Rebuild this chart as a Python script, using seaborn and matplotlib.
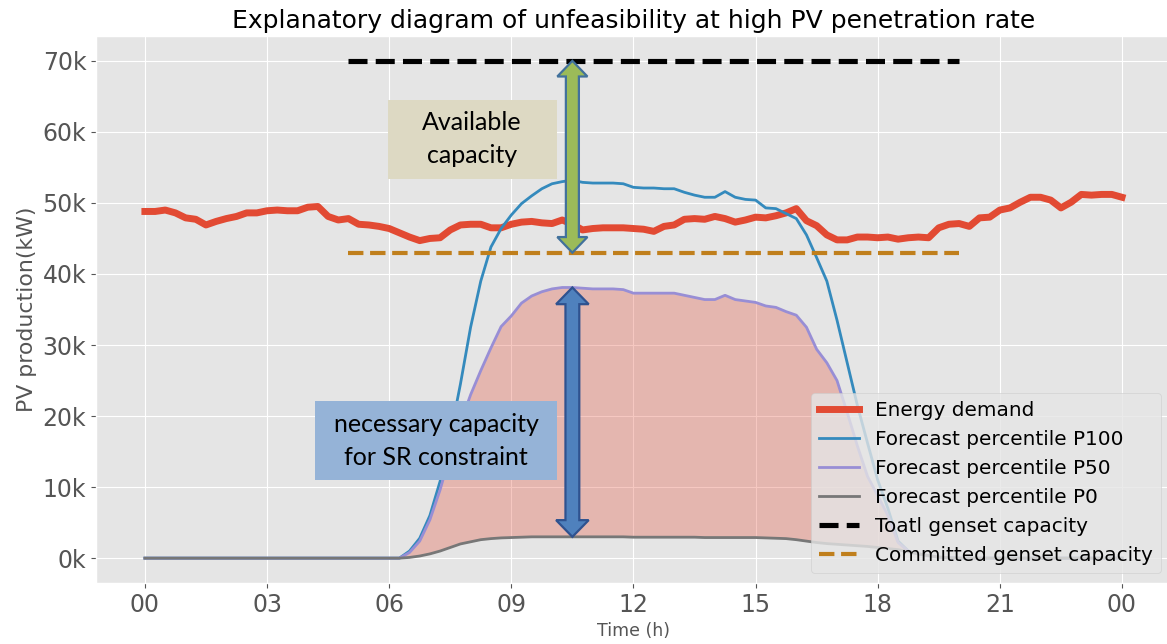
import numpy as np
import matplotlib
matplotlib.use('Agg')
import matplotlib.pyplot as plt
import seaborn as sns
from matplotlib.patches import Polygon, Rectangle
from matplotlib.ticker import FuncFormatter, MultipleLocator

plt.style.use('ggplot')

# quarter-hour time grid, one day (values below in thousands of kW)
hours = np.arange(0, 24.01, 0.25)

demand = [48.8, 48.8, 49.0, 48.6, 47.9, 47.7, 46.9, 47.4, 47.8, 48.1, 48.6, 48.6,
          48.9, 49.0, 48.9, 48.9, 49.4, 49.5, 48.1, 47.6, 47.8, 47.0, 46.9, 46.7,
          46.4, 45.8, 45.2, 44.7, 45.0, 45.1, 46.2, 46.9, 47.0, 47.0, 46.5, 46.5,
          47.0, 47.3, 47.4, 47.2, 47.1, 47.6, 47.0, 46.2, 46.4, 46.5, 46.5, 46.5,
          46.4, 46.3, 46.0, 46.7, 46.9, 47.7, 47.8, 47.7, 48.1, 47.8, 47.3, 47.6,
          48.0, 47.9, 48.2, 48.6, 49.2, 47.5, 46.8, 45.5, 44.8, 44.8, 45.2, 45.2,
          45.1, 45.2, 44.9, 45.1, 45.2, 45.1, 46.5, 47.0, 47.1, 46.7, 47.9, 48.0,
          49.0, 49.3, 50.1, 50.8, 50.8, 50.4, 49.3, 50.1, 51.2, 51.1, 51.2, 51.2,
          50.8]

p100 = [0.0] * 26 + [
    1.0, 2.8, 6.0, 10.8, 17.2, 24.5, 32.5, 39.0, 43.8, 46.4, 48.3, 49.9,
    51.0, 52.0, 52.7, 53.0, 53.2, 52.9, 52.8, 52.8, 52.8, 52.7, 52.2, 52.1,
    52.1, 52.0, 52.0, 51.5, 51.1, 50.8, 50.8, 51.6, 50.8, 50.5, 50.4, 49.3,
    49.2, 48.5, 47.8, 45.5, 42.3, 39.0, 33.5, 27.5, 21.5, 16.2, 11.0, 7.0,
    2.4, 1.0, 0.6, 0.35, 0.15, 0.05] + [0.0] * 17

p50 = [0.0] * 26 + [
    0.8, 2.4, 5.4, 9.6, 14.6, 19.0, 23.0, 26.4, 29.6, 32.6, 34.1, 35.9,
    36.9, 37.5, 37.9, 38.1, 38.1, 38.0, 37.9, 37.9, 37.9, 37.8, 37.3, 37.3,
    37.3, 37.3, 37.3, 37.0, 36.7, 36.4, 36.4, 37.0, 36.4, 36.2, 36.0, 35.5,
    35.3, 34.7, 34.2, 32.5, 29.4, 27.5, 25.0, 20.5, 15.8, 11.5, 8.8, 6.0,
    2.2, 1.0, 0.6, 0.35, 0.15, 0.05] + [0.0] * 17

p0 = [0.0] * 26 + [
    0.1, 0.3, 0.6, 1.0, 1.5, 2.0, 2.3, 2.6, 2.75, 2.85, 2.9, 2.95,
    3.0, 3.0, 3.0, 3.0, 3.0, 3.0, 3.0, 3.0, 3.0, 3.0, 2.95, 2.95,
    2.95, 2.95, 2.95, 2.95, 2.95, 2.9, 2.9, 2.9, 2.9, 2.9, 2.9, 2.85,
    2.8, 2.75, 2.6, 2.4, 2.2, 2.05, 1.95, 1.85, 1.75, 1.65, 1.5, 1.35,
    1.2, 0.9, 0.6, 0.35, 0.15, 0.05] + [0.0] * 17

total_capacity = 70
committed_capacity = 43
genset_hours = [5, 20]
arrow_hour = 10.5

p0_arr = np.array(p0)
p50_arr = np.array(p50)
i_arrow = int(np.argmin(np.abs(hours - arrow_hour)))


def double_arrow(ax, x, y0, y1, shaft_w, head_w, head_l, fc, ec):
    # vertical two-headed block arrow
    pts = [(x, y0), (x + head_w / 2, y0 + head_l), (x + shaft_w / 2, y0 + head_l),
           (x + shaft_w / 2, y1 - head_l), (x + head_w / 2, y1 - head_l), (x, y1),
           (x - head_w / 2, y1 - head_l), (x - shaft_w / 2, y1 - head_l),
           (x - shaft_w / 2, y0 + head_l), (x - head_w / 2, y0 + head_l)]
    ax.add_patch(Polygon(pts, closed=True, fc=fc, ec=ec, lw=1.6, zorder=8))


fig = plt.figure(figsize=(11.67, 6.44), dpi=100)
ax = fig.add_axes([0.0823, 0.0947, 0.921, 0.8494])

sns.lineplot(x=hours, y=demand, ax=ax, color='#E24A33', lw=5, label='Energy demand')
sns.lineplot(x=hours, y=p100, ax=ax, color='#348ABD', lw=2, label='Forecast percentile P100')
sns.lineplot(x=hours, y=p50, ax=ax, color='#988ED5', lw=2, label='Forecast percentile P50')
sns.lineplot(x=hours, y=p0, ax=ax, color='#777777', lw=2, label='Forecast percentile P0')
ax.fill_between(hours, p0_arr, p50_arr, color='#E24A33', alpha=0.3, lw=0, zorder=1)
sns.lineplot(x=genset_hours, y=[total_capacity] * 2, ax=ax, color='black', lw=3.7,
             linestyle='--', label='Toatl genset capacity')
sns.lineplot(x=genset_hours, y=[committed_capacity] * 2, ax=ax, color='#c07f1c', lw=3,
             linestyle='--', label='Committed genset capacity')

# annotation boxes and arrows
ax.add_patch(Rectangle((5.96, 53.4), 4.16, 11.1, fc='#ddd9c3', ec='none', zorder=7))
ax.text(8.04, 59.0, 'Available\ncapacity', ha='center', va='center', fontsize=18,
        family='Lato', color='black', linespacing=1.5, zorder=9)
ax.add_patch(Rectangle((4.17, 11.0), 5.95, 11.1, fc='#95b3d7', ec='none', zorder=7))
ax.text(7.15, 16.5, 'necessary capacity\nfor SR constraint', ha='center', va='center',
        fontsize=18, family='Lato', color='black', linespacing=1.5, zorder=9)

double_arrow(ax, arrow_hour, committed_capacity, total_capacity, 0.32, 0.74, 2.2,
             '#9bbb59', '#41719c')
double_arrow(ax, arrow_hour, p0_arr[i_arrow], p50_arr[i_arrow], 0.34, 0.8, 2.35,
             '#4f81bd', '#2f528f')

ax.set_xlim(-1.2, 25.2)
ax.set_ylim(-3.5, 73.5)
ax.xaxis.set_major_locator(MultipleLocator(3))
ax.xaxis.set_major_formatter(FuncFormatter(lambda v, p: '%02d' % (int(round(v)) % 24)))
ax.yaxis.set_major_locator(MultipleLocator(10))
ax.yaxis.set_major_formatter(FuncFormatter(lambda v, p: '%dk' % int(round(v))))
ax.tick_params(labelsize=17)

ax.set_title('Explanatory diagram of unfeasibility at high PV penetration rate', fontsize=18)
ax.set_xlabel('Time (h)', fontsize=12.5)
ax.set_ylabel('PV production(kW)', fontsize=15.8)
ax.legend(loc='lower right', fontsize=14.4)

fig.savefig('out.png', dpi=100)
